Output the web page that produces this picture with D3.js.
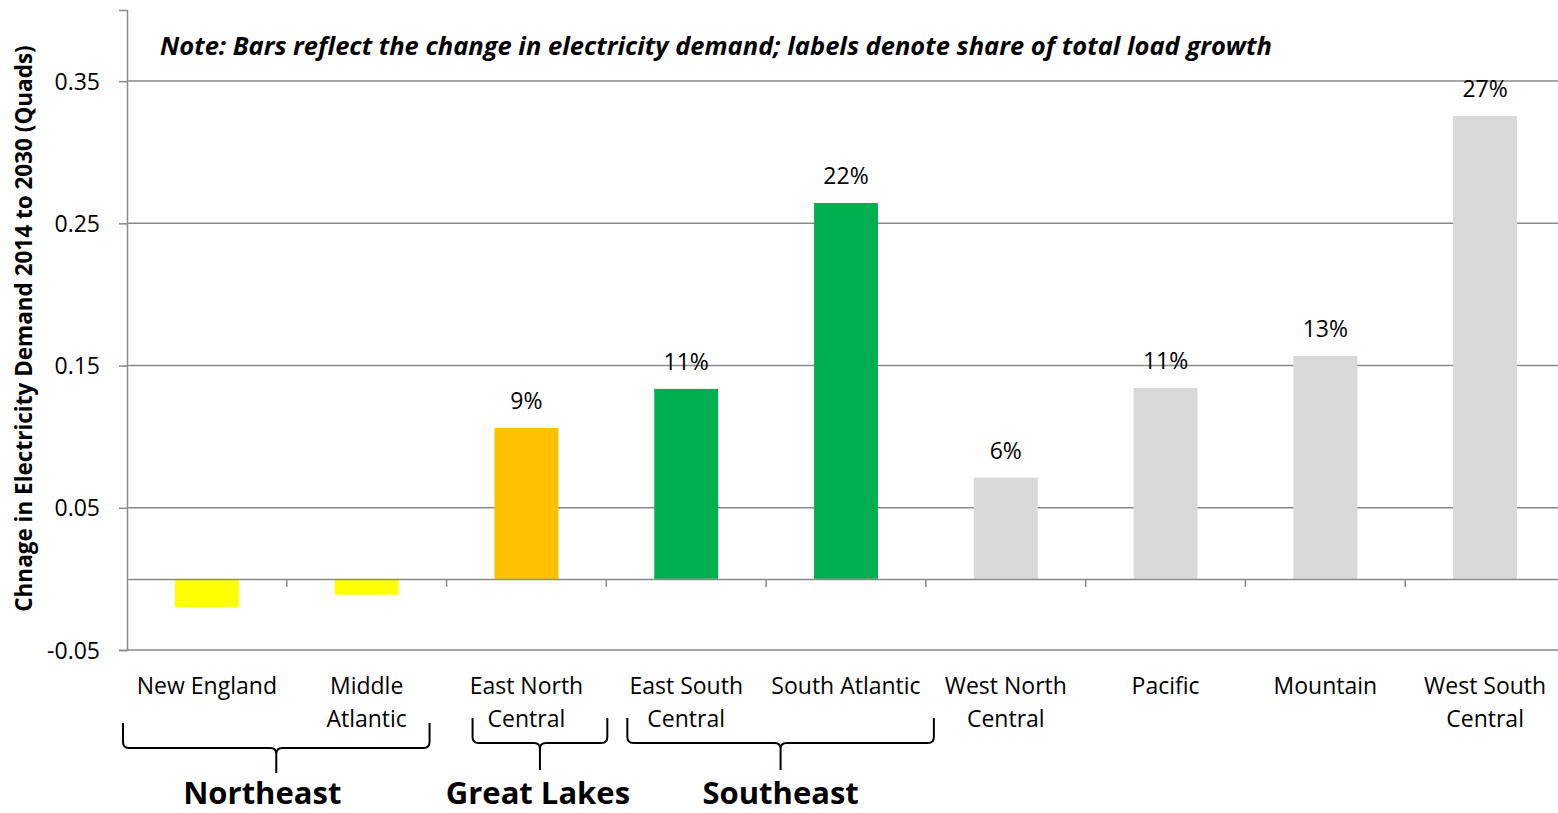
<!DOCTYPE html>
<html>
<head>
<meta charset="utf-8">
<script src="https://cdn.jsdelivr.net/npm/d3@7"></script>
<style>
  html, body { margin: 0; padding: 0; background: #fff; }
  svg { display: block; }
  text { font-family: "Open Sans", Lato, sans-serif; fill: #000; }
</style>
</head>
<body>
<svg id="chart" width="1558" height="813"></svg>
<script>
// ---- data ----
const categories = ["New England", "Middle Atlantic", "East North Central", "East South Central",
  "South Atlantic", "West North Central", "Pacific", "Mountain", "West South Central"];
const categoryLabels = [["New England"], ["Middle", "Atlantic"], ["East North", "Central"], ["East South", "Central"],
  ["South Atlantic"], ["West North", "Central"], ["Pacific"], ["Mountain"], ["West South", "Central"]];
const demandChange = [-0.0197, -0.0111, 0.1062, 0.1336, 0.2643, 0.0712, 0.1343, 0.1568, 0.3255];
const shareLabels = ["", "", "9%", "11%", "22%", "6%", "11%", "13%", "27%"];
const barColors = ["#FFFF00", "#FFFF00", "#FFC000", "#00B050", "#00B050", "#D9D9D9", "#D9D9D9", "#D9D9D9", "#D9D9D9"];
const yTicks = [-0.05, 0.05, 0.15, 0.25, 0.35];
const yTickLabels = ["-0.05", "0.05", "0.15", "0.25", "0.35"];
const regionGroups = ["Northeast", "Great Lakes", "Southeast"];
const regionFrom = [0, 2, 3];
const regionTo = [1, 2, 4];
const noteText = "Note: Bars reflect the change in electricity demand; labels denote share of total load growth";
const yTitle = "Chnage in Electricity Demand 2014 to 2030 (Quads)";

// ---- layout ----
const svg = d3.select("#chart");
const plot = { left: 127, right: 1565, top: 10, bottom: 650 };
const x = d3.scaleBand().domain(categories).range([plot.left, plot.right]).padding(0);
const y = d3.scaleLinear().domain([-0.05, 0.4]).range([plot.bottom, plot.top]);
const barW = x.bandwidth() * 0.4;
const gridColor = "#8a8a8a";
const labelSize = 23;

// gridlines
svg.append("g").selectAll("line").data(yTicks).join("line")
  .attr("x1", plot.left).attr("x2", plot.right)
  .attr("y1", d => y(d)).attr("y2", d => y(d))
  .attr("stroke", gridColor).attr("stroke-width", 1.5);

// y axis
const yAxis = d3.axisLeft(y).tickValues(yTicks).tickSize(8)
  .tickFormat((d, i) => yTickLabels[i]);
const gy = svg.append("g").attr("transform", `translate(${plot.left},0)`).call(yAxis);
gy.select(".domain").attr("stroke", gridColor).attr("stroke-width", 1.5);
gy.selectAll(".tick line").attr("stroke", gridColor).attr("stroke-width", 1.5);
gy.selectAll(".tick text").attr("font-size", labelSize).attr("x", -27).attr("dy", "0.35em")
  .style("font-family", "'Open Sans', Lato, sans-serif").attr("fill", "#000");

// bars
svg.append("g").selectAll("rect").data(demandChange).join("rect")
  .attr("x", (d, i) => x(categories[i]) + (x.bandwidth() - barW) / 2)
  .attr("width", barW)
  .attr("y", d => y(Math.max(0, d)))
  .attr("height", d => Math.abs(y(d) - y(0)))
  .attr("fill", (d, i) => barColors[i]);

// zero (category) axis
const xAxis = d3.axisBottom(x).tickSize(0).tickFormat("");
const gx = svg.append("g").attr("transform", `translate(0,${y(0)})`).call(xAxis);
gx.select(".domain").attr("stroke", gridColor).attr("stroke-width", 1.5);
gx.selectAll(".tick").remove();
svg.append("g").selectAll("line").data(categories.slice(1)).join("line")
  .attr("x1", d => x(d)).attr("x2", d => x(d))
  .attr("y1", y(0)).attr("y2", y(0) + 8)
  .attr("stroke", gridColor).attr("stroke-width", 1.5);

// share labels
svg.append("g").selectAll("text").data(shareLabels).join("text")
  .attr("x", (d, i) => x(categories[i]) + x.bandwidth() / 2)
  .attr("y", (d, i) => y(Math.max(0, demandChange[i])) - 19)
  .attr("text-anchor", "middle").attr("font-size", labelSize)
  .text(d => d);

// category labels
const cl = svg.append("g").selectAll("text").data(categoryLabels).join("text")
  .attr("x", (d, i) => x(categories[i]) + x.bandwidth() / 2)
  .attr("y", 694)
  .attr("text-anchor", "middle").attr("font-size", labelSize);
cl.selectAll("tspan").data((d, i) => d.map(s => ({ s, i }))).join("tspan")
  .attr("x", d => x(categories[d.i]) + x.bandwidth() / 2)
  .attr("dy", (d, j) => j === 0 ? 0 : 33)
  .text(d => d.s);

// region braces
const braceLayout = [
  { x1: -4, x2: -17, top: 723, mid: 748, tip: 773, label: 804, dx: -14 },
  { x1: 26, x2: 1, top: 718, mid: 743, tip: 770, label: 804, dx: -2 },
  { x1: 21, x2: 8, top: 718, mid: 743, tip: 770, label: 804, dx: 0 }
];
const bg = svg.append("g");
regionGroups.forEach((name, k) => {
  const L = braceLayout[k];
  const a = x(categories[regionFrom[k]]) + L.x1;
  const b = x(categories[regionTo[k]]) + x.bandwidth() + L.x2;
  const c = (a + b) / 2;
  const r = 6;
  const p = d3.path();
  p.moveTo(a, L.top);
  p.lineTo(a, L.mid - r);
  p.quadraticCurveTo(a, L.mid, a + r, L.mid);
  p.lineTo(c - r, L.mid);
  p.quadraticCurveTo(c, L.mid, c, L.mid + r);
  p.lineTo(c, L.tip);
  p.moveTo(b, L.top);
  p.lineTo(b, L.mid - r);
  p.quadraticCurveTo(b, L.mid, b - r, L.mid);
  p.lineTo(c + r, L.mid);
  p.quadraticCurveTo(c, L.mid, c, L.mid + r);
  bg.append("path").attr("d", p.toString()).attr("fill", "none")
    .attr("stroke", "#000").attr("stroke-width", 2);
  bg.append("text").attr("x", c + L.dx).attr("y", L.label)
    .attr("text-anchor", "middle").attr("font-size", 31).attr("font-weight", "bold")
    .text(name);
});

// note
svg.append("text").attr("x", 160).attr("y", 55)
  .attr("font-size", 25.5).attr("font-weight", "bold").attr("font-style", "italic")
  .text(noteText);

// y title
svg.append("text")
  .attr("transform", `translate(32,${(45 + 612) / 2}) rotate(-90)`)
  .attr("text-anchor", "middle").attr("font-size", 22.5).attr("font-weight", "bold")
  .text(yTitle);
</script>
</body>
</html>
